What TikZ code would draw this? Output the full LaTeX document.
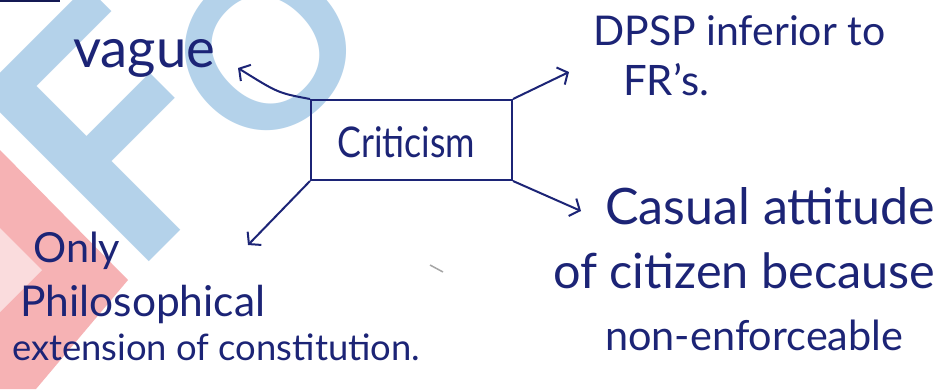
\documentclass[tikz,border=0pt]{standalone}
\usepackage{fontspec}
\usepackage{graphicx}
\setmainfont{Lato}
\usetikzlibrary{arrows.meta}
\definecolor{ink}{RGB}{28,36,118}
\definecolor{wmblue}{RGB}{180,210,234}
\definecolor{wmred}{RGB}{246,178,180}
\newcommand{\fitline}[2]{\resizebox{#1pt}{!}{#2}}
\tikzset{
  note/.style={text=ink, inner sep=0pt, anchor=base west, font=\fontsize{40}{40}\selectfont},
  framebox/.style={draw=ink, line width=2pt, minimum width=201pt, minimum height=80pt, inner sep=0pt},
  link/.style={draw=ink, line width=2pt, -{Straight Barb[length=8pt,width=19pt,line width=2pt]}},
  wmletter/.style={rotate=45, text=wmblue, inner sep=0pt}
}
\begin{document}
\begin{tikzpicture}[x=1pt,y=-1pt]
\useasboundingbox (0,0) rectangle (941,389);
\fill[white] (0,0) rectangle (941,389);
% faint logo lettering in the background
\begin{scope}
  \clip (0,0) rectangle (941,389);
  \fill[wmred] (0,150) -- (128,280) -- (36,389) -- (0,389) -- cycle;
  \fill[white, opacity=0.55] (0,228) -- (42,270) -- (0,312) -- cycle;
  \node[wmletter, font=\fontsize{330}{330}\selectfont\bfseries] (wmF) at (112,130) {F};
  \node[wmletter, font=\fontsize{215}{215}\selectfont\bfseries] (wmO) at (266,50) {O};
  \draw[ink!70!black, line width=2pt] (0,1) -- (60,1);
\end{scope}
% central topic
\node[framebox] (crit) at (411.5,140) {};
\node[note] (crittext) at (337,157) {\resizebox{138pt}{31pt}{Criticism}};
% branch texts, one node per written line
\node[note] (vague) at (73,67) {\fitline{142}{vague}};
\node[note] (dpsp1) at (593,45) {\fitline{292}{DPSP inferior to}};
\node[note] (dpsp2) at (623,95) {\fitline{86}{FR's.}};
\node[note] (cas1) at (605,224) {\fitline{330}{Casual attitude}};
\node[note] (cas2) at (553,288) {\fitline{382}{of citizen because}};
\node[note] (cas3) at (605,350) {\fitline{298}{non-enforceable}};
\node[note] (only1) at (33,262) {\fitline{87}{Only}};
\node[note] (only2) at (20,316) {\fitline{245}{Philosophical}};
\node[note] (only3) at (12,360) {\fitline{408}{extension of constitution.}};
% connectors
\coordinate (tipV) at (238,68);
\coordinate (tipD) at (569,72);
\coordinate (tipC) at (581,211);
\coordinate (tipO) at (248,245);
\coordinate (sagV) at (278,93);
\draw[link] (crit.north west) .. controls (sagV) .. (tipV);
\draw[link] (crit.north east) -- (tipD);
\draw[link] (crit.south east) -- (tipC);
\draw[link] (crit.south west) -- (tipO);
% small pen mark on the paper
\coordinate (speck) at (430,265);
\draw[gray!70, line width=1.5pt] (speck) -- ++(13,7);
\end{tikzpicture}
\end{document}
